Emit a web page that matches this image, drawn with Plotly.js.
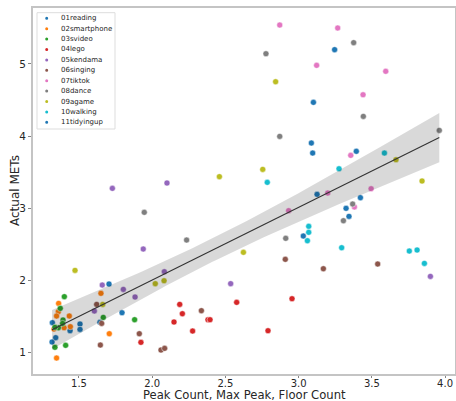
<!DOCTYPE html>
<html><head><meta charset="utf-8">
<script src="https://cdn.plot.ly/plotly-3.0.1.min.js"></script>
<style>html,body{margin:0;padding:0;background:#fff}#chart{width:456px;height:401px}</style>
</head><body><div id="chart"></div>
<script>
// ---- data ----
const categories = ['01reading','02smartphone','03svideo','04lego','05kendama','06singing','07tiktok','08dance','09agame','10walking','11tidyingup'];
const colors = ['#1f77b4','#ff7f0e','#2ca02c','#d62728','#9467bd','#8c564b','#e377c2','#7f7f7f','#bcbd22','#17becf','#1f77b4'];

const reading_x = [1.318,1.316,1.341,1.439,1.507,1.507,1.643,1.705,1.794];
const reading_y = [1.416,1.148,1.208,1.305,1.397,1.323,1.420,1.951,1.554];
const smartphone_x = [1.361,1.359,1.347,1.434,1.398,1.441,1.347,1.650,1.707,1.329];
const smartphone_y = [1.683,1.568,1.508,1.508,1.346,1.360,0.926,1.822,1.263,1.328];
const svideo_x = [1.400,1.372,1.391,1.388,1.359,1.336,1.336,1.409,1.666,1.880];
const svideo_y = [1.776,1.614,1.452,1.406,1.346,1.351,1.074,1.102,1.489,1.457];
const lego_x = [1.923,2.188,2.206,2.149,2.276,2.381,2.395,2.577,2.791,2.955];
const lego_y = [1.143,1.669,1.540,1.425,1.300,1.457,1.457,1.697,1.305,1.748];
const kendama_x = [1.728,1.659,1.605,1.803,1.883,1.939,2.101,2.083,2.536,3.900];
const kendama_y = [3.276,1.937,1.577,1.877,1.771,2.436,3.350,2.122,1.956,2.057];
const singing_x = [1.621,1.655,1.646,1.912,2.060,2.085,2.336,2.909,3.169,3.540];
const singing_y = [1.669,1.406,1.106,1.263,1.037,1.060,1.582,2.293,2.163,2.228];
const tiktok_x = [2.871,2.932,3.123,3.199,3.267,3.440,3.356,3.381,3.495,3.595];
const tiktok_y = [5.538,2.967,4.980,3.211,5.497,4.573,3.733,3.018,3.271,4.897];
const dance_x = [1.946,2.235,2.777,2.871,2.912,3.376,3.442,3.306,3.369,3.961];
const dance_y = [2.944,2.560,5.141,3.996,2.584,5.294,4.273,2.828,3.059,4.079];
const agame_x = [1.473,1.662,2.021,2.081,2.459,2.623,2.755,2.843,3.665,3.843];
const agame_y = [2.140,1.669,1.956,1.997,3.438,2.390,3.539,4.753,3.673,3.378];
const walking_x = [2.786,3.069,3.069,3.060,3.276,3.294,3.586,3.756,3.809,3.859];
const walking_y = [3.359,2.750,2.667,2.551,3.548,2.454,3.765,2.408,2.422,2.237];
const tidyingup_x = [3.032,3.101,3.087,3.096,3.126,3.246,3.394,3.324,3.344,3.422];
const tidyingup_y = [2.616,4.467,3.904,3.765,3.193,5.197,3.789,2.999,2.888,3.147];

const seriesX = [reading_x,smartphone_x,svideo_x,lego_x,kendama_x,singing_x,tiktok_x,dance_x,agame_x,walking_x,tidyingup_x];
const seriesY = [reading_y,smartphone_y,svideo_y,lego_y,kendama_y,singing_y,tiktok_y,dance_y,agame_y,walking_y,tidyingup_y];

const xTickVals = [1.5,2.0,2.5,3.0,3.5,4.0];
const xTickText = ['1.5','2.0','2.5','3.0','3.5','4.0'];
const yTickVals = [1,2,3,4,5];
const yTickText = ['1','2','3','4','5'];
const xTitle = 'Peak Count, Max Peak, Floor Count';
const yTitle = 'Actual METs';

// ---- layout constants ----
const W = 456, H = 401;
const M = {l:33, r:1, t:8, b:27};
const PW = W - M.l - M.r, PH = H - M.t - M.b;
const FONT = 'DejaVu Sans, sans-serif';
const TXT = '#262626';

// ---- scatter traces ----
const traces = [];
categories.forEach((c,i)=>{
  traces.push({
    type:'scatter', mode:'markers', name:c, x:seriesX[i], y:seriesY[i],
    marker:{color:colors[i], size:6, line:{color:'#ffffff', width:0.5}},
    showlegend:false, hoverinfo:'x+y+name'
  });
});

// ---- linear regression with 95% CI ----
const allX = [].concat(...seriesX), allY = [].concat(...seriesY);
const n = allX.length;
const mx = allX.reduce((a,b)=>a+b,0)/n, my = allY.reduce((a,b)=>a+b,0)/n;
let sxx=0, sxy=0;
for(let i=0;i<n;i++){ sxx += (allX[i]-mx)**2; sxy += (allX[i]-mx)*(allY[i]-my); }
const slope = sxy/sxx, icpt = my - slope*mx;
let sse=0; for(let i=0;i<n;i++){ sse += (allY[i]-(icpt+slope*allX[i]))**2; }
const s = Math.sqrt(sse/(n-2)), tval = 1.982;
const xmin = Math.min(...allX), xmax = Math.max(...allX);
const gx=[], gy=[], up=[], lo=[];
for(let k=0;k<100;k++){
  const xv = xmin + (xmax-xmin)*k/99;
  const yv = icpt + slope*xv;
  const hw = tval*s*Math.sqrt(1/n + (xv-mx)**2/sxx);
  gx.push(xv); gy.push(yv); up.push(yv+hw); lo.push(yv-hw);
}
traces.push({type:'scatter', mode:'lines', x:gx.concat(gx.slice().reverse()), y:up.concat(lo.slice().reverse()),
  fill:'toself', fillcolor:'rgba(0,0,0,0.15)', line:{width:0}, showlegend:false, hoverinfo:'skip'});
traces.push({type:'scatter', mode:'lines', x:gx, y:gy, line:{color:'#333333', width:1.1}, showlegend:false, hoverinfo:'skip'});

// ---- manual legend (matplotlib style) and axis titles ----
const px2x = p => (p - M.l)/PW;
const py2y = p => 1 - (p - M.t)/PH;
const shapes = [{type:'rect', xref:'paper', yref:'paper', x0:px2x(37), x1:px2x(115), y0:py2y(129), y1:py2y(12.7),
  line:{color:'#dddddd', width:1}, fillcolor:'rgba(255,255,255,0.85)', layer:'above'}];
const annotations = [];
categories.forEach((c,i)=>{
  const py = 18.3 + 10.4*i;
  shapes.push({type:'circle', xref:'paper', yref:'paper', xsizemode:'pixel', ysizemode:'pixel',
    xanchor:px2x(46.7), yanchor:py2y(py), x0:-1.5, x1:1.5, y0:-1.5, y1:1.5,
    fillcolor:colors[i], line:{color:colors[i], width:0}, layer:'above'});
  annotations.push({xref:'paper', yref:'paper', x:px2x(59), y:py2y(py), xanchor:'left', yanchor:'middle',
    text:c, showarrow:false, font:{family:FONT, size:7, color:TXT}});
});
annotations.push({xref:'paper', yref:'paper', x:0.5, y:py2y(403), xanchor:'center', yanchor:'bottom',
  text:xTitle, showarrow:false, borderpad:0, font:{family:FONT, size:11.6, color:TXT}});
annotations.push({xref:'paper', yref:'paper', x:px2x(15), y:0.5, xanchor:'center', yanchor:'middle', textangle:-90,
  text:yTitle, showarrow:false, font:{family:FONT, size:12, color:TXT}});

const layout = {
  width:W, height:H, margin:M, paper_bgcolor:'#ffffff', plot_bgcolor:'#ffffff',
  font:{family:FONT, color:TXT},
  showlegend:false,
  xaxis:{range:[1.186,4.068], tickvals:xTickVals, ticktext:xTickText, showgrid:false, zeroline:false,
    showline:true, mirror:true, linecolor:'#c4c4c4', linewidth:2,
    ticks:'outside', ticklen:2, tickwidth:0.8, tickcolor:'#666', tickfont:{size:10, family:FONT, color:TXT},
    ticklabelstandoff:-3, automargin:false},
  yaxis:{range:[0.705,5.774], tickvals:yTickVals, ticktext:yTickText, showgrid:false, zeroline:false,
    showline:true, mirror:true, linecolor:'#c4c4c4', linewidth:2,
    ticks:'outside', ticklen:3, tickwidth:0.8, tickcolor:'#666', tickfont:{size:10.5, family:FONT, color:TXT},
    automargin:false},
  shapes:shapes, annotations:annotations
};
Plotly.newPlot('chart', traces, layout, {displayModeBar:false, staticPlot:true});
</script>
</body></html>
